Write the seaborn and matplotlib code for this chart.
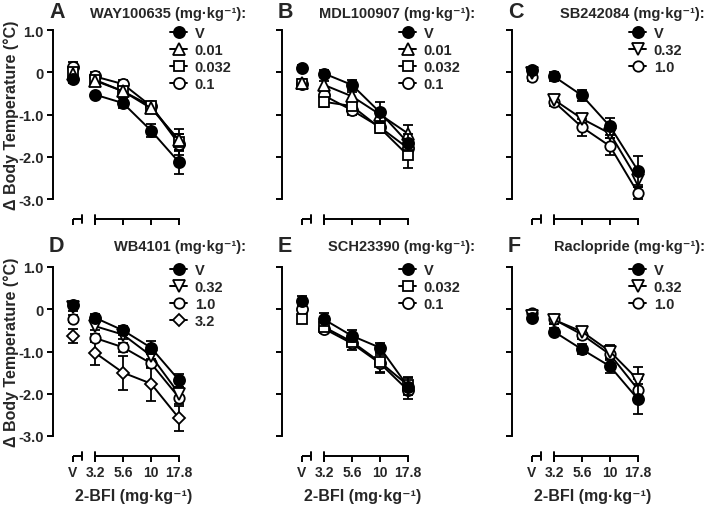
import numpy as np
import pandas as pd
import matplotlib
matplotlib.use("Agg")
import matplotlib.pyplot as plt
import seaborn as sns
from matplotlib.lines import Line2D

# --------------------------------------------
# Data
# --------------------------------------------

dose_labels = ["V", "3.2", "5.6", "10", "17.8"]
dose_pos = [-0.79, 0, 1, 2, 3]

# panel A - WAY100635
a_names = ["V", "0.01", "0.032", "0.1"]
a_means = [
    [-0.17, -0.53, -0.73, -1.38, -2.13],
    [-0.05, -0.20, -0.45, -0.85, -1.60],
    [0.00, -0.18, -0.45, -0.80, -1.65],
    [0.12, -0.10, -0.28, -0.80, -1.70],
]
a_sem = [
    [0.08, 0.05, 0.12, 0.15, 0.27],
    [0.10, 0.10, 0.10, 0.10, 0.25],
    [0.10, 0.10, 0.10, 0.10, 0.20],
    [0.12, 0.10, 0.10, 0.10, 0.25],
]

# panel B - MDL100907
b_names = ["V", "0.01", "0.032", "0.1"]
b_means = [
    [0.10, -0.03, -0.30, -0.95, -1.67],
    [-0.25, -0.30, -0.57, -1.00, -1.45],
    [-0.28, -0.70, -0.80, -1.32, -1.97],
    [-0.28, -0.55, -0.90, -1.30, -1.80],
]
b_sem = [
    [0.08, 0.08, 0.12, 0.25, 0.20],
    [0.08, 0.10, 0.10, 0.10, 0.20],
    [0.08, 0.12, 0.10, 0.12, 0.30],
    [0.08, 0.10, 0.12, 0.12, 0.15],
]

# panel C - SB242084
c_names = ["V", "0.32", "1.0"]
c_means = [
    [0.05, -0.10, -0.55, -1.28, -2.33],
    [-0.02, -0.65, -1.10, -1.45, -2.56],
    [-0.12, -0.70, -1.30, -1.75, -2.86],
]
c_sem = [
    [0.06, 0.10, 0.12, 0.20, 0.35],
    [0.06, 0.10, 0.10, 0.10, 0.15],
    [0.08, 0.10, 0.20, 0.20, 0.15],
]

# panel D - WB4101
d_names = ["V", "0.32", "1.0", "3.2"]
d_means = [
    [0.10, -0.20, -0.50, -0.91, -1.68],
    [0.05, -0.40, -0.60, -1.10, -2.00],
    [-0.22, -0.68, -0.90, -1.28, -2.09],
    [-0.63, -1.03, -1.50, -1.76, -2.58],
]
d_sem = [
    [0.08, 0.08, 0.10, 0.15, 0.15],
    [0.08, 0.10, 0.10, 0.10, 0.15],
    [0.08, 0.10, 0.10, 0.10, 0.15],
    [0.17, 0.30, 0.40, 0.40, 0.30],
]

# panel E - SCH23390
e_names = ["V", "0.032", "0.1"]
e_means = [
    [0.20, -0.24, -0.63, -0.91, -1.83],
    [-0.24, -0.42, -0.77, -1.25, -1.80],
    [0.00, -0.46, -0.81, -1.28, -1.92],
]
e_sem = [
    [0.12, 0.15, 0.15, 0.12, 0.20],
    [0.08, 0.10, 0.10, 0.25, 0.20],
    [0.08, 0.10, 0.15, 0.20, 0.20],
]

# panel F - Raclopride
f_names = ["V", "0.32", "1.0"]
f_means = [
    [-0.20, -0.53, -0.95, -1.35, -2.13],
    [-0.15, -0.25, -0.53, -1.00, -1.67],
    [-0.10, -0.24, -0.60, -1.07, -1.90],
]
f_sem = [
    [0.08, 0.08, 0.12, 0.15, 0.35],
    [0.08, 0.10, 0.10, 0.15, 0.30],
    [0.08, 0.10, 0.10, 0.10, 0.25],
]

panels = [
    ("A", "WAY100635", a_names, a_means, a_sem),
    ("B", "MDL100907", b_names, b_means, b_sem),
    ("C", "SB242084", c_names, c_means, c_sem),
    ("D", "WB4101", d_names, d_means, d_sem),
    ("E", "SCH23390", e_names, e_means, e_sem),
    ("F", "Raclopride", f_names, f_means, f_sem),
]

# marker style for each antagonist dose
styles = {
    "V": ("o", "black", 8),
    "0.01": ("^", "white", 8),
    "0.032": ("s", "white", 7.5),
    "0.1": ("o", "white", 8),
    "0.32": ("v", "white", 8),
    "1.0": ("o", "white", 7.5),
    "3.2": ("D", "white", 6.5),
}

# --------------------------------------------
# Figure
# --------------------------------------------

sns.set_theme(style="ticks")
plt.rcParams["font.family"] = ["Liberation Sans", "DejaVu Sans"]
plt.rcParams["font.weight"] = "bold"
plt.rcParams["axes.labelweight"] = "bold"

W, H = 709, 506
fig = plt.figure(figsize=(W / 100, H / 100), dpi=100)

col_x = [53, 282, 512]
row_y = [31, 268]
ppu_y = 42.25
ppu_x = 28.0
xlim = (-1.5, 3.3)
ylim = (-3.47, 1.05)

for i, (letter, drug, names, means, sems) in enumerate(panels):
    r, c = divmod(i, 3)
    left = col_x[c]
    top = row_y[r] - (ylim[1] - 1.0) * ppu_y
    width = (xlim[1] - xlim[0]) * ppu_x
    height = (ylim[1] - ylim[0]) * ppu_y
    ax = fig.add_axes([left / W, 1 - (top + height) / H, width / W, height / H])
    ax.set_xlim(*xlim)
    ax.set_ylim(*ylim)

    handles = []
    for k in range(len(names) - 1, -1, -1):
        name = names[k]
        m, fc, ms = styles[name]
        z = 5 if name == "V" else 3
        ax.errorbar(dose_pos, means[k], yerr=sems[k], fmt="none", ecolor="black",
                    elinewidth=1.3, capsize=3.5, capthick=1.3, zorder=z - 1)
        sns.lineplot(x=dose_pos[1:], y=means[k][1:], ax=ax, color="black",
                     linewidth=1.4, marker=m, markersize=ms, markerfacecolor=fc,
                     markeredgecolor="black", markeredgewidth=1.3, zorder=z)
        ax.plot(dose_pos[:1], means[k][:1], linestyle="none", marker=m,
                markersize=ms, markerfacecolor=fc, markeredgecolor="black",
                markeredgewidth=1.3, zorder=z)
    for name in names:
        m, fc, ms = styles[name]
        handles.append(Line2D([], [], color="black", linewidth=1.4, marker=m,
                              markersize=ms, markerfacecolor=fc,
                              markeredgecolor="black", markeredgewidth=1.3))

    leg = ax.legend(handles, names, loc="upper left", bbox_to_anchor=(0.87, 1.01),
                    frameon=False, handlelength=1.2, handletextpad=0.5,
                    labelspacing=0.2, borderpad=0, borderaxespad=0,
                    prop={"size": 10.5, "weight": "bold"})
    leg.set_clip_on(False)

    # axes: y spine from -3 to 1, x spine broken between V and 3.2
    sns.despine(ax=ax)
    ax.spines["left"].set_bounds(-3, 1)
    ax.spines["bottom"].set_bounds(0, 3)
    for s in ("left", "bottom"):
        ax.spines[s].set_linewidth(1.4)
        ax.spines[s].set_color("black")
    tr = ax.get_xaxis_transform()
    ax.plot([dose_pos[0], -0.46], [0, 0], color="black", lw=1.4, transform=tr,
            clip_on=False, solid_capstyle="butt")
    for bx in (-0.46, 0):
        ax.plot([bx, bx], [-0.022, 0.022], color="black", lw=1.4, transform=tr,
                clip_on=False)

    ax.set_yticks([1, 0, -1, -2, -3])
    ax.set_xticks(dose_pos)
    ax.tick_params(axis="both", direction="out", length=4.5, width=1.4,
                   color="black", labelsize=10, pad=2)
    if c == 0:
        ax.set_yticklabels(["1.0", "0", "-1.0", "-2.0", "-3.0"], fontweight="bold",
                           fontsize=10.5)
        ax.set_ylabel("\u0394 Body Temperature (\u00b0C)", fontsize=11.5)
        ax.yaxis.set_label_coords(-0.31, 0.546)
        ax.yaxis.label.set_va("center")
    else:
        ax.set_yticklabels([])
    if r == 1:
        ax.set_xticklabels(dose_labels, fontweight="bold")
        ax.set_xlabel("2-BFI (mg\u00b7kg\u207b\u00b9)", fontsize=11.5)
        ax.xaxis.set_label_coords(0.6, -0.21)
        ax.xaxis.label.set_va("center")
    else:
        ax.set_xticklabels([])

    ytxt = row_y[r] - 17 - r * 4
    fig.text((left - 4) / W, 1 - (ytxt - 1) / H, letter, fontsize=15.5,
             fontweight="bold", ha="left", va="center")
    fig.text((left + 193) / W, 1 - ytxt / H, drug + " (mg\u00b7kg\u207b\u00b9):",
             fontsize=10.5, fontweight="bold", ha="right", va="center")

fig.savefig("out.png", dpi=100)
